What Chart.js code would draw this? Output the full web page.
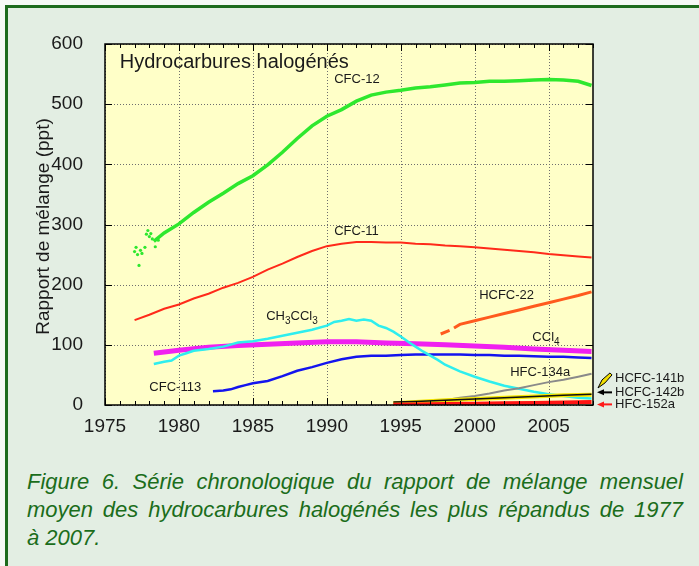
<!DOCTYPE html>
<html>
<head>
<meta charset="utf-8">
<script src="https://cdn.jsdelivr.net/npm/chart.js@4/dist/chart.umd.min.js"></script>
<style>
    html, body { margin: 0; padding: 0; background: #f6f9f6; }
    #frame {
        position: absolute; left: 5px; top: 5px; width: 694px; height: 561px;
        border-top: 3px solid #1d6b1d; border-left: 3px solid #1d6b1d;
        background: #e3eee3; box-sizing: border-box;
    }
    #wrap { position: absolute; left: 0; top: 0; width: 699px; height: 450px; }
    #caption {
        position: absolute; left: 27px; top: 468px; width: 656px;
        font: italic 22px/28px "Liberation Sans", Arial, sans-serif;
        color: #1b6d1b;
    }
    #caption div { text-align: justify; text-align-last: justify; white-space: nowrap; }
    #caption div.last { text-align: left; text-align-last: left; }
</style>
</head>
<body>
<div id="frame"></div>
<div id="wrap"><canvas id="chart" width="699" height="450"></canvas></div>
<div id="caption">
    <div>Figure 6. Série chronologique du rapport de mélange mensuel</div>
    <div>moyen des hydrocarbures halogénés les plus répandus de 1977</div>
    <div class="last">à 2007.</div>
</div>

<script>
// tick labels
const xTickValues = [1975, 1980, 1985, 1990, 1995, 2000, 2005];
const yTickValues = [0, 100, 200, 300, 400, 500, 600];

// series (ppt)
const cfc12ScatterYears = [1977.0, 1977.1, 1977.2, 1977.3, 1977.4, 1977.5, 1977.7, 1977.8, 1977.9, 1978.0, 1978.1, 1978.2, 1978.4, 1978.6];
const cfc12ScatterValues = [255, 262, 250, 232, 257, 252, 262, 284, 290, 280, 285, 276, 263, 274];

const cfc12Years = [1978.3, 1979, 1980, 1981, 1982, 1983, 1984, 1985, 1986, 1987, 1988, 1989, 1990, 1991, 1992, 1993, 1994, 1995, 1996, 1997, 1998, 1999, 2000, 2001, 2002, 2003, 2004, 2005, 2006, 2007, 2007.9];
const cfc12Values = [272, 286, 301, 320, 337, 352, 368, 381, 399, 420, 443, 464, 480, 491, 505, 515, 520, 523, 527, 529, 532, 535, 536, 538, 538, 539, 540, 541, 540, 538, 531];

const cfc11Years = [1977, 1978, 1979, 1980, 1981, 1982, 1983, 1984, 1985, 1986, 1987, 1988, 1989, 1990, 1991, 1992, 1993, 1994, 1995, 1996, 1997, 1998, 1999, 2000, 2001, 2002, 2003, 2004, 2005, 2006, 2007, 2007.9];
const cfc11Values = [141, 150, 160, 167, 177, 185, 195, 203, 213, 225, 235, 246, 256, 264, 268, 271, 271, 270, 270, 268, 267, 265, 264, 262, 260, 258, 256, 254, 251, 249, 247, 245];

const hcfc22Years = [1997.7, 1998.3, 1998.45, 1998.6, 1999, 2000, 2001, 2002, 2003, 2004, 2005, 2006, 2007, 2007.9];
const hcfc22Values = [118, 124, null, 128, 134, 140, 146, 152, 158, 164, 170, 176, 182, 188];

const ch3ccl3Years = [1978.3, 1979, 1979.5, 1980, 1980.5, 1981, 1982, 1983, 1984, 1985, 1986, 1987, 1988, 1989, 1990, 1990.5, 1991, 1991.5, 1992, 1992.5, 1993, 1993.5, 1994, 1994.5, 1995, 1995.5, 1996, 1996.5, 1997, 1997.5, 1998, 1999, 2000, 2001, 2002, 2003, 2004, 2005, 2006, 2007, 2007.9];
const ch3ccl3Values = [68, 72, 74, 82, 86, 90, 93, 97, 104, 106, 110, 115, 120, 125, 132, 138, 140, 143, 140, 142, 140, 132, 128, 122, 114, 105, 97, 89, 82, 75, 67, 56, 47, 39, 32, 27, 22, 18, 15, 12, 11];

const ccl4Years = [1978.3, 1980, 1982, 1984, 1986, 1988, 1990, 1992, 1994, 1996, 1998, 2000, 2002, 2004, 2006, 2007.9];
const ccl4Values = [86, 91, 96, 99, 101, 103, 105, 105, 103, 102, 100, 98, 96, 93, 91, 89];

const cfc113Years = [1982.3, 1983, 1983.5, 1984, 1984.5, 1985, 1986, 1987, 1988, 1989, 1990, 1991, 1992, 1993, 1994, 1995, 1996, 1997, 1998, 1999, 2000, 2001, 2002, 2003, 2004, 2005, 2006, 2007, 2007.9];
const cfc113Values = [23, 24, 26, 30, 33, 36, 40, 48, 57, 63, 70, 76, 80, 82, 82, 83, 84, 84, 84, 84, 83, 83, 82, 82, 81, 80, 80, 79, 78];

const hfc134aYears = [1994.5, 1996, 1997, 1998, 1999, 2000, 2001, 2002, 2003, 2004, 2005, 2006, 2007, 2007.9];
const hfc134aValues = [2, 3, 5, 8, 12, 15, 19, 24, 28, 33, 38, 42, 47, 52];

const hcfc141bYears = [1994.5, 1996, 1998, 2000, 2002, 2004, 2006, 2007.9];
const hcfc141bValues = [3, 5, 8, 10, 12, 14, 16, 17];

const hcfc142bYears = [1994.5, 1996, 1998, 2000, 2002, 2004, 2006, 2007.9];
const hcfc142bValues = [5, 6, 8, 10, 12, 14, 16, 18];

const hfc152aYears = [1994.5, 1996, 1998, 2000, 2002, 2004, 2006, 2007.9];
const hfc152aValues = [0.5, 1, 1.5, 2, 2.8, 3.5, 4.2, 5];

function pts(xs, ys) {
    return xs.map((x, i) => ({ x: x, y: ys[i] }));
}

function line(label, xs, ys, color, width) {
    return {
        label: label,
        data: pts(xs, ys),
        borderColor: color,
        backgroundColor: color,
        borderWidth: width,
        pointRadius: 0,
        fill: false,
        spanGaps: false
    };
}

// texts drawn on the chart (data coordinates)
const notes = [
    { parts: [["Hydrocarbures halogénés", 0]], x: 1976.0, y: 569, size: 20 },
    { parts: [["CFC-12", 0]], x: 1990.5, y: 541, size: 13 },
    { parts: [["CFC-11", 0]], x: 1990.5, y: 288, size: 13 },
    { parts: [["HCFC-22", 0]], x: 2000.3, y: 182, size: 13 },
    { parts: [["CH", 0], ["3", 1], ["CCl", 0], ["3", 1]], x: 1985.9, y: 148, size: 13 },
    { parts: [["CCl", 0], ["4", 1]], x: 2003.9, y: 112, size: 13 },
    { parts: [["HFC-134a", 0]], x: 2002.4, y: 54, size: 13 },
    { parts: [["CFC-113", 0]], x: 1978.0, y: 29, size: 13 }
];

const sideNotes = [
    { text: "HCFC-141b", y: 45 },
    { text: "HCFC-142b", y: 21 },
    { text: "HFC-152a", y: 1 }
];

const FONT = '"Liberation Sans", Arial, sans-serif';

const decor = {
    id: 'decor',
    beforeDatasetsDraw(chart) {
        const ctx = chart.ctx, a = chart.chartArea;
        const xs = chart.scales.x, ys = chart.scales.y;
        ctx.save();
        ctx.fillStyle = '#ffffc8';
        ctx.fillRect(a.left, a.top, a.right - a.left, a.bottom - a.top);
        // dotted grid
        ctx.strokeStyle = '#6e6e6e';
        ctx.lineWidth = 1;
        ctx.setLineDash([1, 2]);
        ctx.beginPath();
        xTickValues.forEach(v => {
            const px = Math.round(xs.getPixelForValue(v)) + 0.5;
            ctx.moveTo(px, a.top); ctx.lineTo(px, a.bottom);
        });
        yTickValues.forEach(v => {
            const py = Math.round(ys.getPixelForValue(v)) + 0.5;
            ctx.moveTo(a.left, py); ctx.lineTo(a.right, py);
        });
        ctx.stroke();
        ctx.restore();
    },
    afterDraw(chart) {
        const ctx = chart.ctx, a = chart.chartArea;
        const xs = chart.scales.x, ys = chart.scales.y;
        ctx.save();

        // inward ticks
        ctx.strokeStyle = '#000';
        ctx.lineWidth = 1;
        ctx.beginPath();
        for (let yr = 1975; yr <= 2008; yr++) {
            const px = Math.round(xs.getPixelForValue(yr)) + 0.5;
            const len = yr % 5 === 0 ? 7 : 4;
            ctx.moveTo(px, a.bottom); ctx.lineTo(px, a.bottom - len);
            ctx.moveTo(px, a.top); ctx.lineTo(px, a.top + len);
        }
        yTickValues.forEach(v => {
            const py = Math.round(ys.getPixelForValue(v)) + 0.5;
            ctx.moveTo(a.left, py); ctx.lineTo(a.left + 7, py);
            ctx.moveTo(a.right, py); ctx.lineTo(a.right - 7, py);
        });
        ctx.stroke();

        // frame
        ctx.lineWidth = 1.5;
        ctx.strokeRect(a.left, a.top, a.right - a.left, a.bottom - a.top);

        // labels in the plot
        ctx.fillStyle = '#1a1a1a';
        ctx.textBaseline = 'middle';
        ctx.textAlign = 'left';
        notes.forEach(n => {
            let px = xs.getPixelForValue(n.x);
            const py = ys.getPixelForValue(n.y);
            n.parts.forEach(p => {
                const sz = p[1] ? Math.round(n.size * 0.75) : n.size;
                ctx.font = sz + 'px ' + FONT;
                ctx.fillText(p[0], px, py + (p[1] ? 5 : 0));
                px += ctx.measureText(p[0]).width;
            });
        });

        // labels and arrows right of the plot
        ctx.font = '13px ' + FONT;
        sideNotes.forEach(n => {
            ctx.fillText(n.text, a.right + 22, ys.getPixelForValue(n.y));
        });
        const r = a.right;
        // yellow pencil arrow
        const y1 = ys.getPixelForValue(sideNotes[0].y);
        ctx.lineWidth = 1;
        ctx.strokeStyle = '#000';
        ctx.fillStyle = '#f2df00';
        ctx.beginPath();
        ctx.moveTo(r + 5, y1 + 10);
        ctx.lineTo(r + 9, y1 + 2);
        ctx.lineTo(r + 17, y1 - 5);
        ctx.lineTo(r + 19, y1 - 3);
        ctx.lineTo(r + 12, y1 + 5);
        ctx.closePath();
        ctx.fill();
        ctx.stroke();
        // black and red arrows
        [[sideNotes[1].y, '#000'], [sideNotes[2].y, '#ff1a1a']].forEach(s => {
            const py = ys.getPixelForValue(s[0]);
            ctx.strokeStyle = s[1];
            ctx.fillStyle = s[1];
            ctx.lineWidth = 2;
            ctx.beginPath();
            ctx.moveTo(r + 19, py); ctx.lineTo(r + 9, py);
            ctx.stroke();
            ctx.beginPath();
            ctx.moveTo(r + 4, py); ctx.lineTo(r + 11, py - 3); ctx.lineTo(r + 11, py + 3);
            ctx.closePath();
            ctx.fill();
        });

        // y axis title
        ctx.font = '19px ' + FONT;
        ctx.fillStyle = '#1a1a1a';
        ctx.textAlign = 'center';
        ctx.translate(a.left - 61, (a.top + a.bottom) / 2 + 2);
        ctx.rotate(-Math.PI / 2);
        ctx.fillText('Rapport de mélange (ppt)', 0, 0);
        ctx.restore();
    }
};

const datasets = [
    line('HFC-152a', hfc152aYears, hfc152aValues, '#ff1414', 4),
    line('HCFC-142b', hcfc142bYears, hcfc142bValues, '#111111', 1.5),
    line('HCFC-141b', hcfc141bYears, hcfc141bValues, '#f5e600', 4),
    line('HFC-134a', hfc134aYears, hfc134aValues, '#8a8a8a', 2),
    line('CH3CCl3', ch3ccl3Years, ch3ccl3Values, '#2eeeee', 2.5),
    line('CFC-113', cfc113Years, cfc113Values, '#1414ee', 2.5),
    line('CCl4', ccl4Years, ccl4Values, '#f020f0', 5),
    line('HCFC-22', hcfc22Years, hcfc22Values, '#ff5a1e', 3),
    line('CFC-11', cfc11Years, cfc11Values, '#ff2a1a', 2),
    line('CFC-12', cfc12Years, cfc12Values, '#2ee82e', 3.5),
    {
        label: 'CFC-12 early',
        data: pts(cfc12ScatterYears, cfc12ScatterValues),
        showLine: false,
        pointRadius: 1.6,
        pointBorderWidth: 0,
        backgroundColor: '#2ee82e',
        borderColor: '#2ee82e'
    }
];

new Chart(document.getElementById('chart'), {
    type: 'line',
    data: { datasets: datasets },
    options: {
        responsive: false,
        animation: false,
        layout: { padding: { top: 44, right: 106, left: 0, bottom: 0 } },
        plugins: { legend: { display: false }, tooltip: { enabled: false } },
        elements: { line: { tension: 0 } },
        scales: {
            x: {
                type: 'linear',
                min: 1975,
                max: 2008,
                afterBuildTicks: s => { s.ticks = xTickValues.map(v => ({ value: v })); },
                afterFit: s => { s.height = 45; },
                ticks: {
                    font: { family: FONT, size: 19 },
                    color: '#1a1a1a',
                    padding: 2,
                    maxRotation: 0,
                    callback: v => String(v)
                },
                grid: { display: false },
                border: { display: false }
            },
            y: {
                min: 0,
                max: 600,
                afterBuildTicks: s => { s.ticks = yTickValues.map(v => ({ value: v })); },
                afterFit: s => { s.width = 105; },
                ticks: {
                    font: { family: FONT, size: 19 },
                    color: '#1a1a1a',
                    padding: 14,
                    callback: v => String(v)
                },
                grid: { display: false },
                border: { display: false }
            }
        }
    },
    plugins: [decor]
});
</script>
</body>
</html>
